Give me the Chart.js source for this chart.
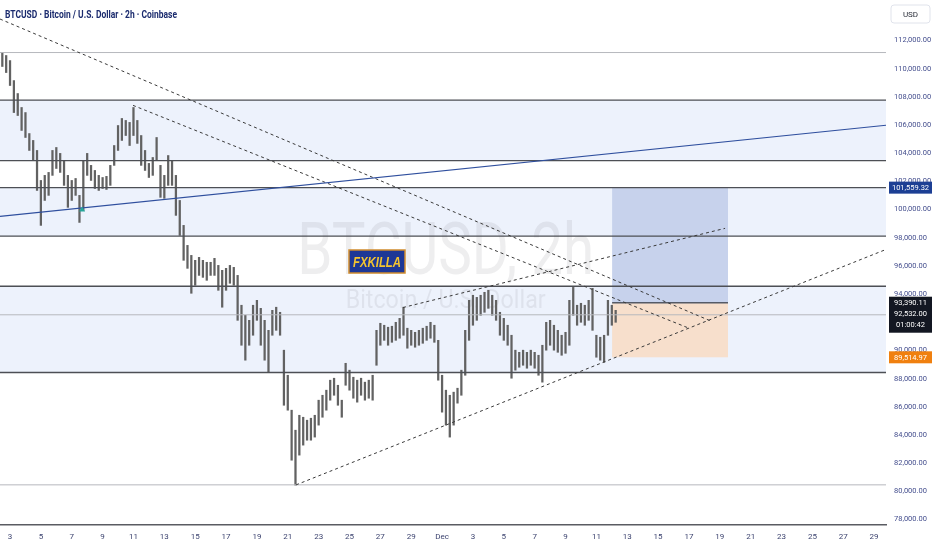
<!DOCTYPE html>
<html><head><meta charset="utf-8">
<script src="https://cdn.jsdelivr.net/npm/chart.js@4.4.1/dist/chart.umd.min.js"></script>
<style>html,body{margin:0;padding:0;background:#fff;}#wrap{width:932px;height:550px;position:relative;overflow:hidden;}</style>
</head><body><div id="wrap"><canvas id="c" width="932" height="550"></canvas></div>
<script>
// ---- DATA ----
// time axis: day number (Nov d = d, Dec d = 30 + d); one sample every 6 hours
const candleStartDay = 2.5;
const candleStepDay = 0.25;
const candleHigh = [111150,110940,110580,109160,108240,107250,106890,105400,104910,104200,
102070,102430,102640,104200,104410,103990,103490,102430,102070,102210,
101010,103490,103990,103140,102780,102430,102280,102360,103140,104550,
105970,106470,106330,106190,107250,106330,105260,104200,103280,103700,
105120,103140,102430,103840,103490,102430,100650,98880,97460,96750,
96400,96610,96400,96260,96260,96540,96040,95690,95830,96040,
95900,95330,93210,92500,92140,93210,93560,92990,92140,91430,
92850,93070,92710,90020,88240,85760,84340,85400,85260,85050,
85190,85400,86470,86820,87180,87890,88030,87530,86470,89090,
88600,88100,87890,88030,87750,87890,88240,91430,91930,91790,
91650,91720,92000,92280,93070,91580,91430,91290,91430,91580,
91720,92000,91790,90720,88240,87180,86820,87040,87320,88600,
91430,93560,93920,93770,93920,94130,94270,93920,93560,92710,
92280,91790,91080,90020,89870,90020,89870,90020,89870,89660,
90370,92000,92140,91790,91430,91080,91290,93560,94480,93210,
93350,93210,93560,94410,91080,90940,91080,93560,93210,92850];
const candleLow = [110160,109730,108810,106890,106680,105620,105120,104200,103490,101360,
98880,100650,101010,102430,102920,102640,101720,100160,100650,101010,
99090,99940,102430,102070,101500,101360,101500,101430,101720,103140,
104200,104910,105260,104550,105260,104700,103140,102780,102280,102430,
103490,100870,100800,101720,101720,99590,98170,96400,95830,94060,
94630,95330,95190,94980,95330,95330,94270,93070,94270,94770,
94630,92140,90370,89310,90370,91080,92140,90370,89310,88460,
91080,91430,91080,86110,85760,82210,80440,82570,83280,83630,
83630,83850,84700,85260,85760,86470,86820,86110,85260,87530,
87180,86610,86330,86820,86470,86610,86470,88950,90370,90720,
90370,90580,90720,90870,91080,90160,90370,90230,90370,90510,
90720,90870,90580,87890,85620,84700,83850,84700,86260,86820,
88240,90720,91790,92140,92500,92710,92990,92500,92140,91080,
90720,90370,88030,88600,88810,88950,88740,88950,88740,88240,
87750,90020,90370,90020,89870,89660,89800,90370,92500,91790,
92000,91790,92140,91430,89520,89310,89160,91080,91790,92000];
const candleDays = candleHigh.map((_, i) => candleStartDay + i * candleStepDay);

const xTickDays = [3,5,7,9,11,13,15,17,19,21,23,25,27,29,31,33,35,37,39,41,43,45,47,49,51,53,55,57,59];
const xTickLabels = ['3','5','7','9','11','13','15','17','19','21','23','25','27','29','Dec','3','5','7','9','11','13','15','17','19','21','23','25','27','29'];
const yTickValues = [78000,80000,82000,84000,86000,88000,90000,92000,94000,96000,98000,100000,102000,104000,106000,108000,110000,112000];
const xMin = 2.35, xMax = 59.77;
const yMin = 77610, yMax = 114880;

const darkLevels = [107770, 103480, 101560, 98120, 94560, 88440];
const lightLevels = [111150, 92532, 80460];
const bandTops = [107770, 101560, 94560];
const bandBottoms = [103480, 98120, 88440];

const blueTrend = [[2.35, 99520], [59.77, 105990]];
const dashedTrends = [
  [[2.35, 113530], [48.50, 92050]],
  [[10.97, 107400], [47.07, 91550]],
  [[21.54, 80460], [59.77, 97170]],
  [[28.47, 93050], [49.34, 98670]]
];

const positionStartDay = 42.02, positionEndDay = 49.53;
const targetPrice = 101559.32, entryPrice = 93390.11, stopPrice = 89514.97;
const lastPrice = 92532.00;
const countdown = '01:00:42';
const markerPoint = [7.67, 100000];

const titleText = 'BTCUSD · Bitcoin / U.S. Dollar · 2h · Coinbase';
const watermarkMain = 'BTCUSD, 2h';
const watermarkSub = 'Bitcoin / U.S. Dollar';
const logoText = 'FXKILLA';
const currencyText = 'USD';

// ---- HELPERS ----
const fmt = v => Number(v).toLocaleString('en-US', {minimumFractionDigits: 2, maximumFractionDigits: 2});
function fitText(ctx, text, x, y, targetW, align) {
  const w = ctx.measureText(text).width;
  const s = targetW / w;
  ctx.save();
  ctx.translate(x, y);
  ctx.scale(s, 1);
  ctx.textAlign = align || 'left';
  ctx.fillText(text, 0, 0);
  ctx.restore();
}
function priceLabel(ctx, text, yc, bg, fg, x0, w, h) {
  ctx.fillStyle = bg;
  ctx.fillRect(x0, yc - h / 2, w, h);
  ctx.fillStyle = fg;
  ctx.textAlign = 'center';
  ctx.textBaseline = 'middle';
  ctx.fillText(text, x0 + w / 2, yc + 0.5);
}

const tvPlugin = {
  id: 'tvDraw',
  beforeDatasetsDraw(chart) {
    const {ctx, chartArea: ca, scales: {x, y}} = chart;
    ctx.save();
    ctx.beginPath();
    ctx.rect(ca.left, ca.top, ca.right - ca.left, ca.bottom - ca.top);
    ctx.clip();
    // bands
    ctx.fillStyle = '#edf2fc';
    bandTops.forEach((t, i) => {
      const y1 = y.getPixelForValue(t), y2 = y.getPixelForValue(bandBottoms[i]);
      ctx.fillRect(ca.left, y1, ca.right - ca.left, y2 - y1);
    });
    // watermark
    const cx = ca.left + (ca.right - ca.left) * 0.503;
    ctx.fillStyle = 'rgba(120,123,134,0.13)';
    ctx.font = '72px Roboto';
    ctx.textBaseline = 'alphabetic';
    fitText(ctx, watermarkMain, cx, ca.top + 274, 297, 'center');
    ctx.font = '25px Roboto';
    fitText(ctx, watermarkSub, cx, ca.top + 308, 200, 'center');
    // position boxes
    const px1 = x.getPixelForValue(positionStartDay), px2 = x.getPixelForValue(positionEndDay);
    const yT = y.getPixelForValue(targetPrice), yE = y.getPixelForValue(entryPrice), yS = y.getPixelForValue(stopPrice);
    ctx.fillStyle = '#c7d2ec';
    ctx.fillRect(px1, yT, px2 - px1, yE - yT);
    ctx.fillStyle = '#f7dfcc';
    ctx.fillRect(px1, yE, px2 - px1, yS - yE);
    ctx.strokeStyle = '#555a66';
    ctx.lineWidth = 1.5;
    ctx.beginPath();
    ctx.moveTo(px1, yE); ctx.lineTo(px2, yE);
    ctx.stroke();
    ctx.restore();
  },
  afterDatasetsDraw(chart) {
    const {ctx, chartArea: ca, scales: {x, y}} = chart;
    ctx.save();
    // marker
    const mx = x.getPixelForValue(markerPoint[0]), my = y.getPixelForValue(markerPoint[1]);
    ctx.fillStyle = '#26a69a';
    ctx.beginPath();
    ctx.moveTo(mx, my - 3); ctx.lineTo(mx + 3, my + 2); ctx.lineTo(mx - 3, my + 2); ctx.closePath();
    ctx.fill();
    // logo
    const lx = ca.left + 349, ly = ca.top + 250, lw = 56, lh = 23;
    ctx.fillStyle = '#1d3796';
    ctx.fillRect(lx, ly, lw, lh);
    ctx.strokeStyle = '#d08c2e';
    ctx.lineWidth = 1.5;
    ctx.strokeRect(lx, ly, lw, lh);
    ctx.fillStyle = '#f4c430';
    ctx.font = 'italic bold 15px "Liberation Sans"';
    ctx.textBaseline = 'alphabetic';
    fitText(ctx, logoText, lx + lw / 2, ly + 17, 48, 'center');
    // title
    ctx.fillStyle = '#1b2b6e';
    ctx.font = 'bold 10px Roboto';
    fitText(ctx, titleText, ca.left + 5, ca.top + 17.5, 172, 'left');
    ctx.restore();
  },
  afterDraw(chart) {
    const {ctx, chartArea: ca, scales: {y}} = chart;
    ctx.save();
    const x0 = ca.right + 3, w = 43;
    ctx.font = '7.5px Roboto';
    priceLabel(ctx, fmt(targetPrice), y.getPixelForValue(targetPrice), '#1c3f94', '#ffffff', x0, w, 12);
    // black box
    const yE = y.getPixelForValue(entryPrice);
    ctx.fillStyle = '#131722';
    ctx.fillRect(x0, yE - 6, w, 36);
    ctx.fillStyle = '#ffffff';
    ctx.textAlign = 'center';
    ctx.textBaseline = 'middle';
    ctx.fillText(fmt(entryPrice), x0 + w / 2, yE);
    ctx.fillText(fmt(lastPrice), x0 + w / 2, yE + 11);
    ctx.fillText(countdown, x0 + w / 2, yE + 22);
    priceLabel(ctx, fmt(stopPrice), y.getPixelForValue(stopPrice), '#f0800f', '#ffffff', x0, w, 12);
    // USD box
    ctx.strokeStyle = '#e0e3eb';
    ctx.lineWidth = 1;
    ctx.fillStyle = '#ffffff';
    ctx.beginPath();
    ctx.roundRect(ca.right + 5, ca.top + 5, 39, 18, 3);
    ctx.fill(); ctx.stroke();
    ctx.fillStyle = '#2a2e39';
    ctx.font = '8px Roboto';
    ctx.fillText(currencyText, ca.right + 24.5, ca.top + 14.5);
    ctx.restore();
  }
};

// ---- DATASETS ----
const datasets = [];
datasets.push({
  type: 'bar', label: 'BTCUSD',
  data: candleDays.map((d, i) => ({x: d, y: [candleLow[i], candleHigh[i]]})),
  backgroundColor: '#626262', borderWidth: 0, barThickness: 1.6, order: 5
});
darkLevels.forEach(p => datasets.push({
  type: 'line', data: [{x: xMin, y: p}, {x: xMax, y: p}],
  borderColor: '#4d4f55', borderWidth: 1.4, pointRadius: 0, fill: false, order: 2
}));
lightLevels.forEach(p => datasets.push({
  type: 'line', data: [{x: xMin, y: p}, {x: xMax, y: p}],
  borderColor: '#b6b8bd', borderWidth: 1, pointRadius: 0, fill: false, order: 3
}));
datasets.push({
  type: 'line', data: blueTrend.map(p => ({x: p[0], y: p[1]})),
  borderColor: '#2f4f9e', borderWidth: 1.2, pointRadius: 0, fill: false, order: 1
});
dashedTrends.forEach(seg => datasets.push({
  type: 'line', data: seg.map(p => ({x: p[0], y: p[1]})),
  borderColor: '#3a3a3a', borderWidth: 1, borderDash: [3, 3], pointRadius: 0, fill: false, order: 1
}));

new Chart(document.getElementById('c'), {
  type: 'bar',
  data: {datasets},
  options: {
    responsive: false, animation: false, events: [],
    layout: {padding: 0},
    plugins: {legend: {display: false}, tooltip: {enabled: false}, title: {display: false}},
    scales: {
      x: {
        type: 'linear', min: xMin, max: xMax, offset: false,
        grid: {display: false, drawTicks: false},
        border: {display: true, color: '#5a5c62', width: 1.5},
        afterBuildTicks: s => { s.ticks = xTickDays.map(v => ({value: v})); },
        afterFit: s => { s.height = 25; s.paddingLeft = 0; s.paddingRight = 0; },
        ticks: {autoSkip: false, maxRotation: 0, color: '#3d4470', font: {family: 'Roboto', size: 8}, padding: 7,
          callback: (v, i) => xTickLabels[i]}
      },
      y: {
        type: 'linear', position: 'right', min: yMin, max: yMax,
        grid: {display: false, drawTicks: false},
        border: {display: false},
        afterBuildTicks: s => { s.ticks = yTickValues.map(v => ({value: v})); },
        afterFit: s => { s.width = 46; s.paddingTop = 0; s.paddingBottom = 0; },
        ticks: {color: '#454f8e', font: {family: 'Roboto', size: 7.5}, padding: 8,
          callback: v => fmt(v)}
      }
    }
  },
  plugins: [tvPlugin]
});
</script>
</body></html>
